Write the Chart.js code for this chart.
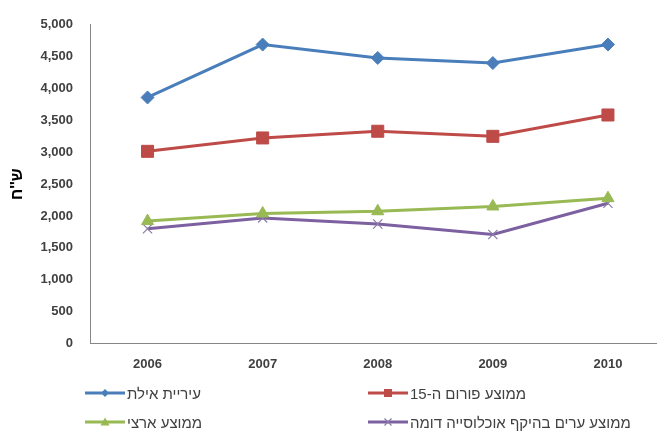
<!DOCTYPE html>
<html lang="he">
<head>
<meta charset="utf-8">
<script src="https://cdn.jsdelivr.net/npm/chart.js@4"></script>
<style>
    html, body { margin: 0; padding: 0; background: #fff; overflow: hidden; width: 657px; height: 432px; }
    #wrap { position: absolute; left: 0; top: 0; width: 675px; height: 380px; }
    #legend { position: absolute; left: 0; top: 0; width: 657px; height: 432px; pointer-events: none;
              font-family: "Liberation Sans", Arial, "DejaVu Sans", sans-serif; font-size: 15px; color: #404040; }
    .lg-item { position: absolute; display: flex; align-items: center; height: 20px; }
    .lg-item span { direction: rtl; unicode-bidi: embed; margin-left: 2px; white-space: nowrap; }
</style>
</head>
<body>
<div id="wrap"><canvas id="chart"></canvas></div>
<div id="legend"></div>
<script>
// Yearly values (ILS).
const years = ['2006', '2007', '2008', '2009', '2010'];
const eilat = [3860, 4690, 4480, 4400, 4690];
const forum15 = [3015, 3225, 3330, 3250, 3585];
const national = [1920, 2040, 2075, 2150, 2280];
const similarCities = [1800, 1970, 1875, 1710, 2200];

const seriesNames = ['עיריית אילת', 'ממוצע פורום ה-15', 'ממוצע ארצי', 'ממוצע ערים בהיקף אוכלוסייה דומה'];
const seriesColors = ['#4A7EBB', '#BE4B48', '#98B954', '#7D60A0'];
const seriesMarkers = ['rectRot', 'rect', 'triangle', 'crossRot'];
const markerSizes = [6.5, 8.5, 7, 6.5];

// legend slots: [left, centre y] — two columns, two rows
const legendSlots = [[85, 393], [368, 393], [85, 422], [368, 422]];

const AXIS_GREY = '#868686';
const TEXT_GREY = '#404040';
const FONT = '"Liberation Sans", Arial, "DejaVu Sans", sans-serif';

function makeSet(i, data) {
    const isCross = seriesMarkers[i] === 'crossRot';
    return {
        label: seriesNames[i],
        data,
        borderColor: seriesColors[i],
        backgroundColor: seriesColors[i],
        borderWidth: 3,
        tension: 0,
        pointStyle: seriesMarkers[i],
        pointRadius: markerSizes[i],
        pointHoverRadius: markerSizes[i],
        pointBackgroundColor: seriesColors[i],
        pointBorderColor: isCross ? '#8A7CA6' : seriesColors[i],
        pointBorderWidth: isCross ? 1.2 : 1,
    };
}

new Chart(document.getElementById('chart'), {
    type: 'line',
    data: {
        labels: years,
        datasets: [eilat, forum15, national, similarCities].map((d, i) => makeSet(i, d)),
    },
    options: {
        responsive: true, maintainAspectRatio: false, animation: false,
        layout: { padding: { top: 21.5, left: 4, right: 0, bottom: 0 } },
        plugins: { legend: { display: false }, tooltip: { enabled: false } },
        scales: {
            x: {
                offset: true,
                grid: { display: false, drawTicks: false },
                border: { display: true, color: AXIS_GREY, width: 1 },
                ticks: { color: TEXT_GREY, padding: 13, font: { family: FONT, size: 13, weight: 'bold' } },
                afterFit: s => { s.height = 36.5; },
            },
            y: {
                min: 0, max: 5000,
                grid: { display: false, drawTicks: false },
                border: { display: true, color: AXIS_GREY, width: 1 },
                ticks: {
                    stepSize: 500, padding: 17, color: TEXT_GREY,
                    font: { family: FONT, size: 13, weight: 'bold' },
                    callback: v => v.toLocaleString('en-US'),
                },
                title: { display: true, text: "ש''ח", color: '#000', padding: 4,
                         font: { family: FONT, size: 16, weight: 'bold' } },
                afterFit: s => { s.width = 86; },
            },
        },
    },
});

// ── Legend (two columns, RTL labels) ──
function markerSvg(i) {
    const c = seriesColors[i];
    let m = '';
    switch (seriesMarkers[i]) {
        case 'rectRot': m = `<polygon points="20,2 24,6 20,10 16,6" fill="${c}"/>`; break;
        case 'rect': m = `<rect x="16" y="2" width="8" height="8" fill="${c}"/>`; break;
        case 'triangle': m = `<polygon points="20,1.5 24.5,9.5 15.5,9.5" fill="${c}"/>`; break;
        default: m = `<path d="M16.5,2.5 L23.5,9.5 M23.5,2.5 L16.5,9.5" stroke="#8A7CA6" stroke-width="1.2"/>`;
    }
    return `<svg width="40" height="12" viewBox="0 0 40 12"><line x1="0" y1="6" x2="40" y2="6" stroke="${c}" stroke-width="3"/>${m}</svg>`;
}

document.getElementById('legend').innerHTML = seriesNames.map((name, i) => {
    const [x, y] = legendSlots[i];
    return `<div class="lg-item" style="left:${x}px;top:${y - 10}px">${markerSvg(i)}<span>${name}</span></div>`;
}).join('');
</script>
</body>
</html>
